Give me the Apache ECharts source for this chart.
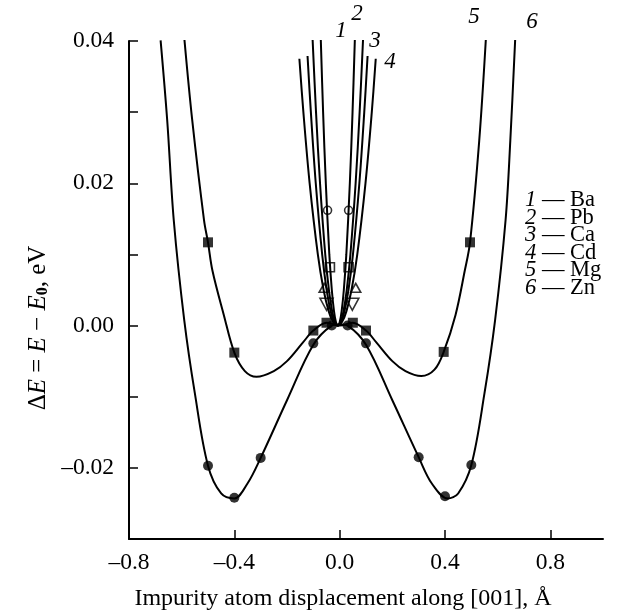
<!DOCTYPE html>
<html>
<head>
<meta charset="utf-8">
<script src="https://cdn.jsdelivr.net/npm/echarts@6/dist/echarts.min.js"></script>
<style>html,body{margin:0;padding:0;background:#fff}#c{width:617px;height:616px}</style>
</head>
<body>
<div id="c"></div>
<script>
// ---- data (x in Å, y in eV) ----
const xTickValues = [-0.8, -0.4, 0.0, 0.4, 0.8];
const yTickValues = [-0.03, -0.02, -0.01, 0.00, 0.01, 0.02, 0.03, 0.04];
const yLabelValues = [-0.02, 0.00, 0.02, 0.04];

// curve 6 — Zn
const znCurve = [[-0.68,0.0401],[-0.655,0.0289],[-0.63,0.0148],[-0.59,0.0007],[-0.55,-0.0095],[-0.5,-0.0197],[-0.45,-0.0236],[-0.4,-0.0243],[-0.35,-0.0222],[-0.3,-0.0186],[-0.2,-0.0105],[-0.1,-0.0027],[-0.03,0],[0,0.0002],[0.03,0],[0.1,-0.0027],[0.2,-0.0105],[0.3,-0.0185],[0.35,-0.0222],[0.41,-0.0243],[0.45,-0.0236],[0.5,-0.0196],[0.55,-0.0095],[0.59,0.0007],[0.63,0.0148],[0.648,0.026],[0.667,0.0406]];
const znPoints = [[-0.5,-0.0197],[-0.4,-0.0242],[-0.3,-0.0186],[-0.1,-0.0025],[-0.03,0],[0.03,0],[0.1,-0.0025],[0.3,-0.0185],[0.4,-0.024],[0.5,-0.0196]];

// curve 5 — Mg
const mgCurve = [[-0.59,0.0404],[-0.56,0.0289],[-0.515,0.0148],[-0.5,0.0117],[-0.483,0.0077],[-0.44,0.0015],[-0.4,-0.0038],[-0.36,-0.0064],[-0.316,-0.0072],[-0.25,-0.0064],[-0.2,-0.005],[-0.14,-0.0024],[-0.1,-0.0007],[-0.05,0.0004],[0,0],[0.05,0.0004],[0.1,-0.0007],[0.14,-0.0024],[0.2,-0.005],[0.25,-0.0064],[0.31,-0.0071],[0.36,-0.0062],[0.395,-0.0037],[0.44,0.0015],[0.475,0.0077],[0.495,0.0117],[0.53,0.026],[0.556,0.0408]];
const mgPoints = [[-0.5,0.0117],[-0.4,-0.0038],[-0.1,-0.0007],[-0.05,0.0004],[0.05,0.0004],[0.1,-0.0007],[0.395,-0.0037],[0.495,0.0117]];

// curve 1 — Ba
const baCurve = [[-0.072,0.0406],[-0.0629,0.03],[-0.0526,0.02],[-0.0393,0.01],[-0.0298,0.005],[-0.0214,0.002],[-0.0142,0.0005],[-0.007,0],[0.0002,0.0005],[0.0074,0.002],[0.0158,0.005],[0.0253,0.01],[0.0386,0.02],[0.0489,0.03],[0.058,0.0406]];
const baPoints = [[-0.046,0.0162],[0.034,0.0162]];

// curve 2 — Pb
const pbCurve = [[-0.1035,0.0408],[-0.0898,0.03],[-0.0746,0.02],[-0.0548,0.01],[-0.0408,0.005],[-0.0284,0.002],[-0.0177,0.0005],[-0.007,0],[0.0037,0.0005],[0.0144,0.002],[0.0268,0.005],[0.0408,0.01],[0.0606,0.02],[0.0758,0.03],[0.0895,0.0408]];
const pbPoints = [[-0.037,0.0082],[0.034,0.0082]];

// curve 3 — Ca
const caCurve = [[-0.122,0.0379],[-0.1094,0.03],[-0.0908,0.02],[-0.0665,0.01],[-0.0494,0.005],[-0.0342,0.002],[-0.0211,0.0005],[-0.008,0],[0.0051,0.0005],[0.0182,0.002],[0.0334,0.005],[0.0505,0.01],[0.0748,0.02],[0.0934,0.03],[0.106,0.0379]];
const caPoints = [[-0.059,0.0053],[0.061,0.0053]];

// curve 4 — Cd
const cdCurve = [[-0.153,0.0375],[-0.1378,0.03],[-0.114,0.02],[-0.0829,0.01],[-0.061,0.005],[-0.0415,0.002],[-0.0248,0.0005],[-0.008,0],[0.0088,0.0005],[0.0255,0.002],[0.045,0.005],[0.0669,0.01],[0.098,0.02],[0.122,0.03],[0.137,0.0375]];
const cdPoints = [[-0.05,0.003],[0.048,0.003]];

const curveNumbers = ['1','2','3','4','5','6'];
const elements = ['Ba','Pb','Ca','Cd','Mg','Zn'];

// ---- chart ----
const SERIF = '"Liberation Serif","DejaVu Serif",serif';
const dash = v => (v < 0 ? '\u2013' : '');
const chart = echarts.init(document.getElementById('c'), null, {renderer:'canvas'});

function lineSeries(d){ return {type:'line', data:d, smooth:0.35, showSymbol:false, symbol:'none', silent:true,
  lineStyle:{color:'#000', width:2}, z:2}; }
function markSeries(d, symbol, size, filled, rotate){ return {type:'scatter', data:d, symbol:symbol, symbolSize:size,
  symbolRotate: rotate||0, silent:true, z:3,
  itemStyle: filled ? {color:'#000'} : {color:'rgba(255,255,255,0)', borderColor:'#000', borderWidth:1.6}}; }

const option = {
  animation:false,
  backgroundColor:'#fff',
  grid:{left:129, right:14, top:41, bottom:77, containLabel:false},
  xAxis:{type:'value', min:-0.8, max:1.0, interval:0.4,
    axisLine:{show:true, onZero:false, lineStyle:{color:'#000', width:2}},
    axisTick:{show:true, inside:true, length:9, lineStyle:{color:'#000', width:1.5}, customValues:xTickValues},
    axisLabel:{customValues:xTickValues, margin:12, color:'#000', fontFamily:SERIF, fontSize:23.5,
      formatter: v => dash(v) + Math.abs(v).toFixed(1)},
    splitLine:{show:false}},
  yAxis:{type:'value', min:-0.03, max:0.04, interval:0.01,
    axisLine:{show:true, onZero:false, lineStyle:{color:'#000', width:2}},
    axisTick:{show:true, inside:true, length:9, lineStyle:{color:'#000', width:1.5}, customValues:yTickValues},
    axisLabel:{customValues:yLabelValues, margin:15, color:'#000', fontFamily:SERIF, fontSize:23.5,
      formatter: v => dash(v) + Math.abs(v).toFixed(2)},
    splitLine:{show:false}},
  series:[
    lineSeries(znCurve), lineSeries(mgCurve),
    lineSeries(baCurve), lineSeries(pbCurve), lineSeries(caCurve), lineSeries(cdCurve),
    markSeries(znPoints,'circle',10,true),
    markSeries(mgPoints,'rect',10,true),
    markSeries(baPoints,'circle',8,false),
    markSeries(pbPoints,'rect',9,false),
    markSeries(caPoints,'triangle',[10,9],false),
    markSeries(cdPoints,'triangle',[13,12],false,180)
  ],
  graphic:[]
};
chart.setOption(option);

// graphic texts
const g = [];
const labelPos = [[341,31],[357,14],[375,41],[390,62],[474,17],[532,22]];
curveNumbers.forEach((n,i)=>{
  g.push({type:'text', x:labelPos[i][0], y:labelPos[i][1], style:{text:n, font:'italic 23px '+SERIF, fill:'#000', align:'center', verticalAlign:'middle'}});
});
curveNumbers.forEach((n,i)=>{
  g.push({type:'text', x:525, y:200 + i*17.6, style:{
    text:'{n|'+n+'} \u2014 '+elements[i], font:'22.5px '+SERIF, fill:'#000', verticalAlign:'middle',
    rich:{n:{fontStyle:'italic', fontFamily:SERIF, fontSize:22.5}}}});
});
g.push({type:'text', x:343, y:599, style:{text:'Impurity atom displacement along [001], \u00C5', font:'24px '+SERIF, fill:'#000', align:'center', verticalAlign:'middle'}});
g.push({type:'text', x:38, y:328, rotation:Math.PI/2, style:{
  text:'\u0394{i|E} = {i|E} \u2212 {i|E}{s|0}, eV', font:'25px '+SERIF, fill:'#000', align:'center', verticalAlign:'middle',
  rich:{i:{fontStyle:'italic', fontFamily:SERIF, fontSize:25}, s:{fontWeight:'bold', fontFamily:SERIF, fontSize:16, padding:[9,0,0,0]}}}});
chart.setOption({graphic:g});
</script>
</body>
</html>
